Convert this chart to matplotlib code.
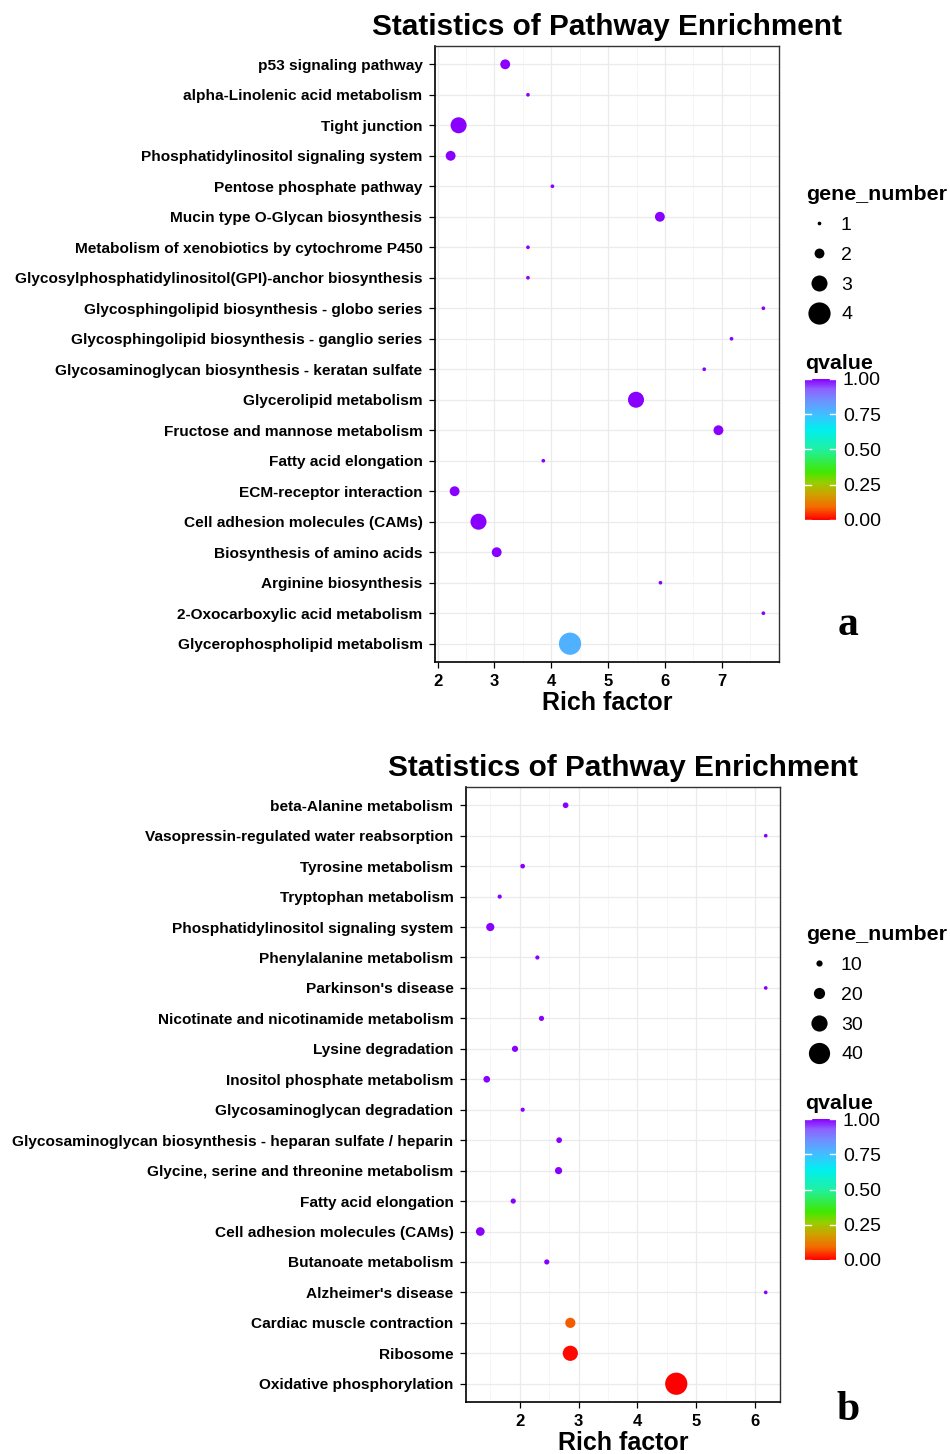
import matplotlib

matplotlib.use("Agg")
import matplotlib.pyplot as plt
import numpy as np
from matplotlib.colors import LinearSegmentedColormap, Normalize
from matplotlib.lines import Line2D
from matplotlib.ticker import FormatStrFormatter, MultipleLocator

plt.rcParams["font.family"] = ["Liberation Sans", "DejaVu Sans"]

DPI = 100
FIG_W, FIG_H = 950, 1454

# --- panel a: enrichment of the first gene set -------------------------------
PATHWAYS_A = [
    "p53 signaling pathway",
    "alpha-Linolenic acid metabolism",
    "Tight junction",
    "Phosphatidylinositol signaling system",
    "Pentose phosphate pathway",
    "Mucin type O-Glycan biosynthesis",
    "Metabolism of xenobiotics by cytochrome P450",
    "Glycosylphosphatidylinositol(GPI)-anchor biosynthesis",
    "Glycosphingolipid biosynthesis - globo series",
    "Glycosphingolipid biosynthesis - ganglio series",
    "Glycosaminoglycan biosynthesis - keratan sulfate",
    "Glycerolipid metabolism",
    "Fructose and mannose metabolism",
    "Fatty acid elongation",
    "ECM-receptor interaction",
    "Cell adhesion molecules (CAMs)",
    "Biosynthesis of amino acids",
    "Arginine biosynthesis",
    "2-Oxocarboxylic acid metabolism",
    "Glycerophospholipid metabolism",
]
RICH_A = [3.19, 3.59, 2.37, 2.23, 4.02, 5.91, 3.59, 3.59, 7.73, 7.17,
          6.69, 5.49, 6.94, 3.86, 2.30, 2.72, 3.04, 5.92, 7.73, 4.33]
GENES_A = [2, 1, 3, 2, 1, 2, 1, 1, 1, 1, 1, 3, 2, 1, 2, 3, 2, 1, 1, 4]
QVALUE_A = [1.0, 1.0, 1.0, 1.0, 1.0, 1.0, 1.0, 1.0, 1.0, 1.0,
            1.0, 1.0, 1.0, 1.0, 1.0, 1.0, 1.0, 1.0, 1.0, 0.78]
XTICKS_A = [2, 3, 4, 5, 6, 7]
SIZE_BREAKS_A = [1, 2, 3, 4]

# --- panel b: enrichment of the second gene set ------------------------------
PATHWAYS_B = [
    "beta-Alanine metabolism",
    "Vasopressin-regulated water reabsorption",
    "Tyrosine metabolism",
    "Tryptophan metabolism",
    "Phosphatidylinositol signaling system",
    "Phenylalanine metabolism",
    "Parkinson's disease",
    "Nicotinate and nicotinamide metabolism",
    "Lysine degradation",
    "Inositol phosphate metabolism",
    "Glycosaminoglycan degradation",
    "Glycosaminoglycan biosynthesis - heparan sulfate / heparin",
    "Glycine, serine and threonine metabolism",
    "Fatty acid elongation",
    "Cell adhesion molecules (CAMs)",
    "Butanoate metabolism",
    "Alzheimer's disease",
    "Cardiac muscle contraction",
    "Ribosome",
    "Oxidative phosphorylation",
]
RICH_B = [2.78, 6.18, 2.05, 1.66, 1.50, 2.30, 6.18, 2.37, 1.92, 1.44,
          2.05, 2.67, 2.66, 1.89, 1.33, 2.46, 6.18, 2.86, 2.86, 4.66]
GENES_B = [9, 5, 7, 6, 14, 6, 5, 8, 10, 11, 6, 9, 12, 8, 15, 8, 5, 18, 28, 42]
QVALUE_B = [1.0, 1.0, 1.0, 1.0, 1.0, 1.0, 1.0, 1.0, 1.0, 1.0,
            1.0, 1.0, 1.0, 1.0, 1.0, 1.0, 1.0, 0.08, 0.01, 0.0]
XTICKS_B = [2, 3, 4, 5, 6]
SIZE_BREAKS_B = [10, 20, 30, 40]

QTICKS = [0.0, 0.25, 0.5, 0.75, 1.0]

# rainbow(4) gradient, interpolated roughly the way ggplot does it (Lab space)
QCMAP = LinearSegmentedColormap.from_list("qvalue", [
    (0.0, "#FF0000"),
    (0.09, "#F46A00"),
    (0.18, "#CFA000"),
    (0.26, "#9ACC00"),
    (0.34, "#40E800"),
    (0.50, "#20F0A0"),
    (0.64, "#00F0F0"),
    (0.75, "#40BFFF"),
    (0.85, "#7090FF"),
    (0.93, "#8E60FF"),
    (1.0, "#8A00FF"),
])


def px(x, y, w, h):
    """Pixel box (left, top, width, height) -> figure fraction rect."""
    return [x / FIG_W, 1 - (y + h) / FIG_H, w / FIG_W, h / FIG_H]


def marker_diam(genes, lo, hi):
    # linear diameter scale, ~3.7 px at the smallest count, ~22 px at the largest
    d_px = 3.7 + 18.5 * (np.asarray(genes, float) - lo) / (hi - lo)
    return d_px * 72 / DPI


def draw_panel(fig, ax_box, leg_xy, cbar_box, letter_xy, letter,
               names, rich, genes, qvalue, xticks, size_breaks):
    ax = fig.add_axes(px(*ax_box))
    n = len(names)
    ypos = np.arange(n, 0, -1)
    lo, hi = min(genes), max(genes)
    norm = Normalize(0, 1)

    ax.grid(True, which="major", color="#EBEBEB", lw=0.9, zorder=0)
    ax.grid(True, which="minor", axis="x", color="#F5F5F5", lw=0.6, zorder=0)
    ax.set_axisbelow(True)
    sc = ax.scatter(rich, ypos, s=marker_diam(genes, lo, hi) ** 2, c=qvalue,
                    cmap=QCMAP, norm=norm, linewidths=0, zorder=3)

    span = max(rich) - min(rich)
    ax.set_xlim(min(rich) - 0.05 * span, max(rich) + 0.05 * span)
    ax.set_ylim(0.4, n + 0.6)
    ax.set_xticks(xticks)
    ax.xaxis.set_minor_locator(MultipleLocator(0.5))
    ax.set_yticks(ypos)
    ax.set_yticklabels(names)
    ax.tick_params(which="major", length=4, width=0.9, colors="black")
    ax.tick_params(axis="y", labelsize=11.1, pad=5)
    ax.tick_params(axis="x", labelsize=12, pad=5)
    ax.tick_params(which="minor", length=0)
    for lab in ax.get_xticklabels() + ax.get_yticklabels():
        lab.set_fontweight("bold")
    for side in ("left", "bottom"):
        ax.spines[side].set_color("black")
        ax.spines[side].set_linewidth(1.2)
    for side in ("right", "top"):
        ax.spines[side].set_color("#333333")
        ax.spines[side].set_linewidth(1.0)
    ax.set_xlabel("Rich factor", fontsize=18, fontweight="bold", labelpad=1)
    ax.set_title("Statistics of Pathway Enrichment", fontsize=21.4,
                 fontweight="bold", pad=8)

    handles = [Line2D([], [], ls="", marker="o", color="black", mec="none",
                      markersize=d) for d in marker_diam(size_breaks, lo, hi)]
    fig.legend(handles, [str(b) for b in size_breaks], title="gene_number",
               loc="upper left",
               bbox_to_anchor=(leg_xy[0] / FIG_W, 1 - leg_xy[1] / FIG_H),
               frameon=False, fontsize=14, labelspacing=0.63,
               handlelength=1.3, handletextpad=0.5, borderpad=0,
               borderaxespad=0, alignment="left",
               title_fontproperties={"weight": "bold", "size": 15.4})

    cax = fig.add_axes(px(*cbar_box))
    cb = fig.colorbar(sc, cax=cax, ticks=QTICKS)
    cb.outline.set_visible(False)
    cb.ax.yaxis.set_major_formatter(FormatStrFormatter("%.2f"))
    cb.ax.tick_params(length=0, pad=5, labelsize=14)
    for t in QTICKS:
        cax.axhline(t, 0, 0.2, color="white", lw=1)
        cax.axhline(t, 0.8, 1, color="white", lw=1)
    cax.set_title("qvalue", loc="left", fontsize=15.4, fontweight="bold",
                  pad=7, x=0.0)

    fig.text(letter_xy[0] / FIG_W, 1 - letter_xy[1] / FIG_H, letter,
             family="Liberation Serif", fontweight="bold", fontsize=30,
             ha="center", va="baseline")
    return ax


fig = plt.figure(figsize=(FIG_W / DPI, FIG_H / DPI), dpi=DPI, facecolor="white")

draw_panel(fig, (435, 46, 344, 616), (806, 185), (805, 379, 31, 141),
           (848, 635), "a", PATHWAYS_A, RICH_A, GENES_A, QVALUE_A,
           XTICKS_A, SIZE_BREAKS_A)
draw_panel(fig, (466, 787, 314, 615), (806, 925), (805, 1119, 31, 141),
           (848, 1420), "b", PATHWAYS_B, RICH_B, GENES_B, QVALUE_B,
           XTICKS_B, SIZE_BREAKS_B)

fig.savefig("out.png", dpi=DPI, facecolor="white")
